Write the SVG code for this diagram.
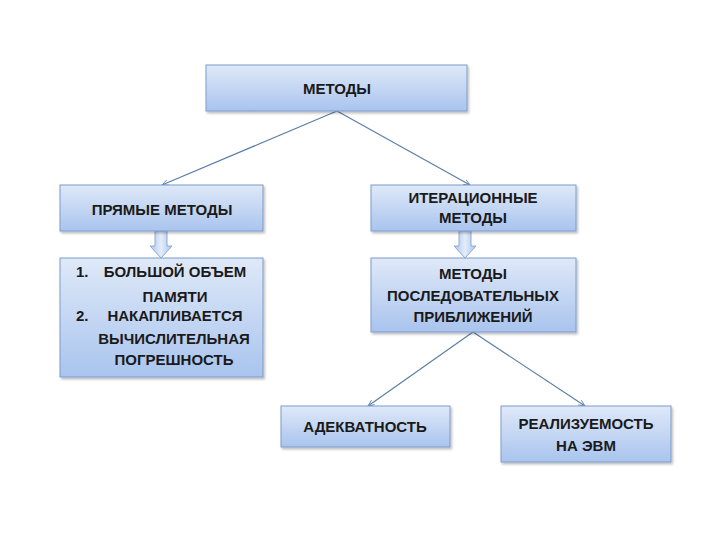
<svg xmlns="http://www.w3.org/2000/svg" width="720" height="540" viewBox="0 0 720 540">
<defs>
<linearGradient id="g" x1="0" y1="0" x2="0" y2="1">
<stop offset="0" stop-color="#dfe9f8"/>
<stop offset="1" stop-color="#a9c4ee"/>
</linearGradient>
<linearGradient id="ga" x1="0" y1="0" x2="1" y2="0">
<stop offset="0" stop-color="#a9c4ee"/>
<stop offset="0.5" stop-color="#e4edf9"/>
<stop offset="1" stop-color="#a9c4ee"/>
</linearGradient>
<marker id="ah" viewBox="0 0 10 10" refX="9" refY="5" markerWidth="7" markerHeight="7" orient="auto" markerUnits="userSpaceOnUse">
<path d="M0,1 L9,5 L0,9" fill="none" stroke="#5b7fa8" stroke-width="1.2"/>
</marker>
<filter id="sh" x="-10%" y="-10%" width="125%" height="130%">
<feDropShadow dx="1.5" dy="2" stdDeviation="1.2" flood-color="#000" flood-opacity="0.25"/>
</filter>
</defs>
<style>
.box{fill:url(#g);stroke:#7d9ccb;stroke-width:1;filter:url(#sh)}
.t{font-family:"Liberation Sans",Arial,sans-serif;font-weight:bold;font-size:15px;fill:#1a1a1a;text-anchor:middle}
.s{text-anchor:start}
.c{stroke:#5b7fa8;stroke-width:1.2;fill:none;marker-end:url(#ah)}
.ba{fill:url(#ga);stroke:#8fa9d2;stroke-width:1}
</style>
<rect width="720" height="540" fill="#ffffff"/>
<g id="connectors">
<line class="c" x1="337" y1="111" x2="162" y2="185"/>
<line class="c" x1="337" y1="111" x2="470" y2="185"/>
<line class="c" x1="473" y1="332" x2="368" y2="406"/>
<line class="c" x1="473" y1="332" x2="585" y2="406"/>
<path class="ba" d="M155,231 H167 V246 H172 L161,258 L150,246 H155 Z"/>
<path class="ba" d="M459,231 H471 V246 H476 L465,258 L454,246 H459 Z"/>
</g>
<g id="n-metody">
<rect class="box" x="206" y="65" width="261" height="46"/>
<text class="t" x="337" y="94">МЕТОДЫ</text>
</g>
<g id="n-pryamye">
<rect class="box" x="60" y="185" width="203" height="46"/>
<text class="t" x="162" y="215">ПРЯМЫЕ МЕТОДЫ</text>
</g>
<g id="n-iter">
<rect class="box" x="371" y="185" width="205" height="46"/>
<text class="t" x="473" y="203">ИТЕРАЦИОННЫЕ</text>
<text class="t" x="473" y="223">МЕТОДЫ</text>
</g>
<g id="n-list">
<rect class="box" x="60" y="258" width="203" height="119"/>
<text class="t s" x="76" y="277">1.</text>
<text class="t" x="175" y="277">БОЛЬШОЙ ОБЪЕМ</text>
<text class="t" x="175" y="302">ПАМЯТИ</text>
<text class="t s" x="76" y="321">2.</text>
<text class="t" x="175" y="321">НАКАПЛИВАЕТСЯ</text>
<text class="t" x="174" y="344">ВЫЧИСЛИТЕЛЬНАЯ</text>
<text class="t" x="174" y="365">ПОГРЕШНОСТЬ</text>
</g>
<g id="n-posl">
<rect class="box" x="371" y="258" width="205" height="74"/>
<text class="t" x="473" y="279">МЕТОДЫ</text>
<text class="t" x="473" y="301">ПОСЛЕДОВАТЕЛЬНЫХ</text>
<text class="t" x="473" y="322">ПРИБЛИЖЕНИЙ</text>
</g>
<g id="n-adekv">
<rect class="box" x="281" y="406" width="169" height="41"/>
<text class="t" x="365" y="432">АДЕКВАТНОСТЬ</text>
</g>
<g id="n-real">
<rect class="box" x="501" y="406" width="170" height="56"/>
<text class="t" x="586" y="429">РЕАЛИЗУЕМОСТЬ</text>
<text class="t" x="586" y="451">НА ЭВМ</text>
</g>
</svg>
